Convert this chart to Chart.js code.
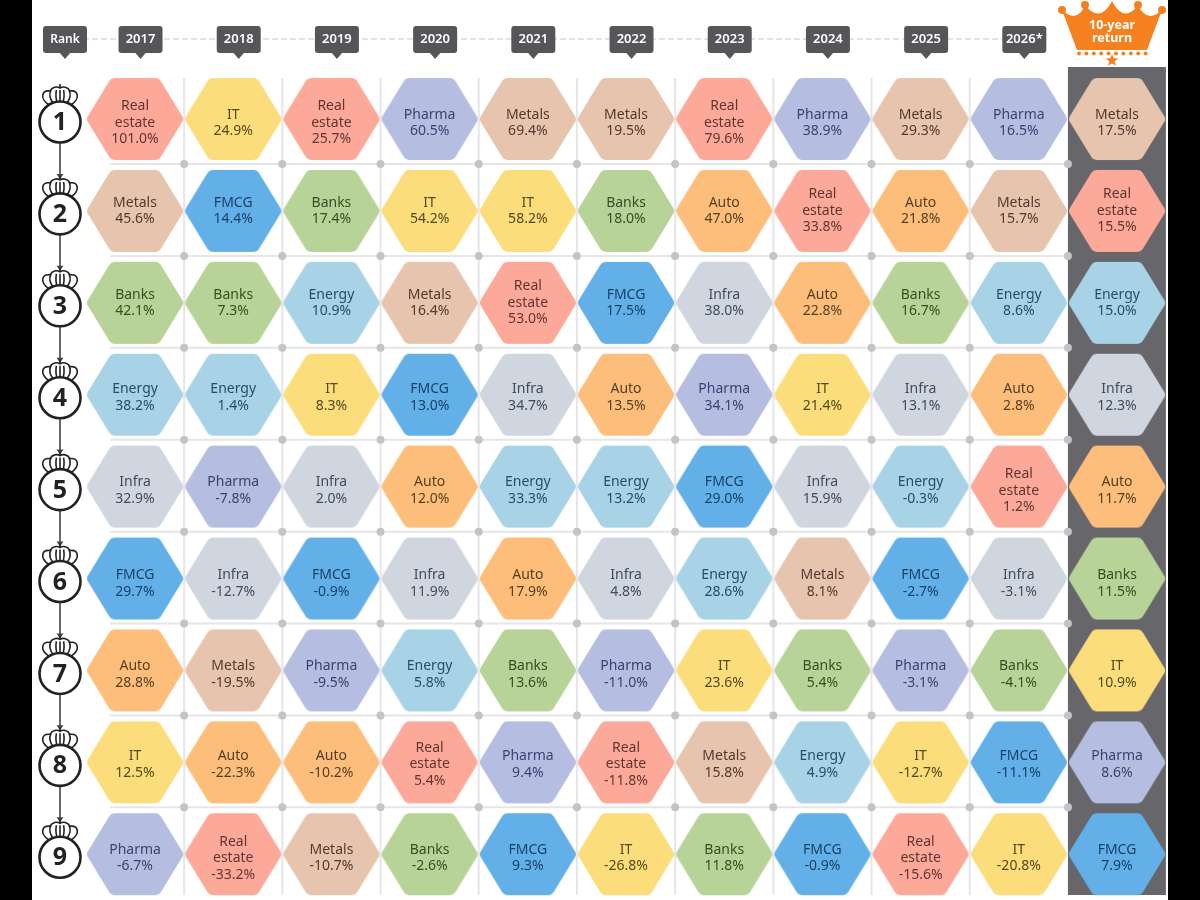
<!DOCTYPE html>
<html>
<head>
<meta charset="utf-8">
<title>Sector returns ranking</title>
<script src="https://cdn.jsdelivr.net/npm/chart.js@4"></script>
<style>
  html, body { margin: 0; padding: 0; background: #fff; }
  #wrap { width: 1200px; height: 900px; }
</style>
</head>
<body>
<div id="wrap"><canvas id="rankChart" width="1200" height="900"></canvas></div>
<script>
// Data
const years = ['2017', '2018', '2019', '2020', '2021', '2022', '2023', '2024', '2025', '2026*'];
const ranks = [1, 2, 3, 4, 5, 6, 7, 8, 9];
const sectorNames = ['Real estate', 'IT', 'Metals', 'Pharma', 'FMCG', 'Banks', 'Energy', 'Infra', 'Auto'];

const sectors2017 = ['Real estate', 'Metals', 'Banks', 'Energy', 'Infra', 'FMCG', 'Auto', 'IT', 'Pharma'];
const returns2017 = [101.0, 45.6, 42.1, 38.2, 32.9, 29.7, 28.8, 12.5, -6.7];
const sectors2018 = ['IT', 'FMCG', 'Banks', 'Energy', 'Pharma', 'Infra', 'Metals', 'Auto', 'Real estate'];
const returns2018 = [24.9, 14.4, 7.3, 1.4, -7.8, -12.7, -19.5, -22.3, -33.2];
const sectors2019 = ['Real estate', 'Banks', 'Energy', 'IT', 'Infra', 'FMCG', 'Pharma', 'Auto', 'Metals'];
const returns2019 = [25.7, 17.4, 10.9, 8.3, 2.0, -0.9, -9.5, -10.2, -10.7];
const sectors2020 = ['Pharma', 'IT', 'Metals', 'FMCG', 'Auto', 'Infra', 'Energy', 'Real estate', 'Banks'];
const returns2020 = [60.5, 54.2, 16.4, 13.0, 12.0, 11.9, 5.8, 5.4, -2.6];
const sectors2021 = ['Metals', 'IT', 'Real estate', 'Infra', 'Energy', 'Auto', 'Banks', 'Pharma', 'FMCG'];
const returns2021 = [69.4, 58.2, 53.0, 34.7, 33.3, 17.9, 13.6, 9.4, 9.3];
const sectors2022 = ['Metals', 'Banks', 'FMCG', 'Auto', 'Energy', 'Infra', 'Pharma', 'Real estate', 'IT'];
const returns2022 = [19.5, 18.0, 17.5, 13.5, 13.2, 4.8, -11.0, -11.8, -26.8];
const sectors2023 = ['Real estate', 'Auto', 'Infra', 'Pharma', 'FMCG', 'Energy', 'IT', 'Metals', 'Banks'];
const returns2023 = [79.6, 47.0, 38.0, 34.1, 29.0, 28.6, 23.6, 15.8, 11.8];
const sectors2024 = ['Pharma', 'Real estate', 'Auto', 'IT', 'Infra', 'Metals', 'Banks', 'Energy', 'FMCG'];
const returns2024 = [38.9, 33.8, 22.8, 21.4, 15.9, 8.1, 5.4, 4.9, -0.9];
const sectors2025 = ['Metals', 'Auto', 'Banks', 'Infra', 'Energy', 'FMCG', 'Pharma', 'IT', 'Real estate'];
const returns2025 = [29.3, 21.8, 16.7, 13.1, -0.3, -2.7, -3.1, -12.7, -15.6];
const sectors2026 = ['Pharma', 'Metals', 'Energy', 'Auto', 'Real estate', 'Infra', 'Banks', 'FMCG', 'IT'];
const returns2026 = [16.5, 15.7, 8.6, 2.8, 1.2, -3.1, -4.1, -11.1, -20.8];
const sectorsTenYear = ['Metals', 'Real estate', 'Energy', 'Infra', 'Auto', 'Banks', 'IT', 'Pharma', 'FMCG'];
const returnsTenYear = [17.5, 15.5, 15.0, 12.3, 11.7, 11.5, 10.9, 8.6, 7.9];

const columns = [
    [sectors2017, returns2017], [sectors2018, returns2018], [sectors2019, returns2019],
    [sectors2020, returns2020], [sectors2021, returns2021], [sectors2022, returns2022],
    [sectors2023, returns2023], [sectors2024, returns2024], [sectors2025, returns2025],
    [sectors2026, returns2026], [sectorsTenYear, returnsTenYear]
];

const fillColors = {
    'Real estate': '#fda99a', 'IT': '#fcdd7c', 'Metals': '#e6c4ae', 'Pharma': '#b5bde0', 'FMCG': '#63b0e8',
    'Banks': '#b7d398', 'Energy': '#a8d3e6', 'Infra': '#cfd6df', 'Auto': '#fdbe7c'
};
const textColors = {
    'Real estate': '#633530', 'IT': '#53491e', 'Metals': '#54392d', 'Pharma': '#3a4372', 'FMCG': '#174268',
    'Banks': '#345024', 'Energy': '#264f66', 'Infra': '#414d59', 'Auto': '#553f20'
};
const textFont = '"Noto Sans", sans-serif';

// the hexagon is a little canvas used as pointStyle
function hexagon(color) {
    const c = document.createElement('canvas');
    c.width = 100;
    c.height = 84;
    const g = c.getContext('2d');
    const pts = [[1, 42], [26, 1], [74, 1], [99, 42], [74, 83], [26, 83]];
    g.fillStyle = color;
    g.beginPath();
    g.moveTo((pts[0][0] + pts[1][0]) / 2, (pts[0][1] + pts[1][1]) / 2);
    for (let i = 1; i <= pts.length; i++) {
        const p = pts[i % pts.length];
        const n = pts[(i + 1) % pts.length];
        g.arcTo(p[0], p[1], n[0], n[1], 6);
    }
    g.closePath();
    g.fill();
    return c;
}

function smallCrown(g, x, y) {
    g.strokeStyle = '#222';
    g.lineWidth = 1.6;
    g.fillStyle = '#fff';
    g.beginPath();
    g.moveTo(x - 11, y + 21);
    g.bezierCurveTo(x - 21, y + 14, x - 18, y + 6, x - 10, y + 7);
    g.bezierCurveTo(x - 8, y + 3, x - 3, y + 2, x, y + 4);
    g.bezierCurveTo(x + 3, y + 2, x + 8, y + 3, x + 10, y + 7);
    g.bezierCurveTo(x + 18, y + 6, x + 21, y + 14, x + 11, y + 21);
    g.closePath();
    g.fill();
    g.stroke();
    [-10, -4, 0, 4, 10].forEach(function (d) {
        g.beginPath();
        g.moveTo(x + d * 0.6, y + 20);
        g.quadraticCurveTo(x + d * 1.25, y + 13, x + d * 0.9, y + 6);
        g.stroke();
    });
    g.beginPath();
    g.moveTo(x, y);
    g.lineTo(x, y + 4);
    g.stroke();
}

function star(g, x, y, r) {
    g.beginPath();
    for (let i = 0; i < 10; i++) {
        const rad = i % 2 ? r * 0.45 : r;
        const a = -Math.PI / 2 + i * Math.PI / 5;
        g.lineTo(x + Math.cos(a) * rad, y + Math.sin(a) * rad);
    }
    g.closePath();
    g.fill();
}

function pill(g, cx, text) {
    g.fillStyle = '#55555a';
    g.beginPath();
    g.roundRect(cx - 22, 26, 44, 27, 3);
    g.fill();
    g.beginPath();
    g.moveTo(cx - 6, 52);
    g.lineTo(cx + 6, 52);
    g.lineTo(cx, 59);
    g.closePath();
    g.fill();
    g.fillStyle = '#fff';
    g.font = (text === 'Rank' ? '600 12px ' : '600 13px ') + textFont;
    g.textAlign = 'center';
    g.textBaseline = 'middle';
    g.fillText(text, cx, 39.5);
}

const backdrop = {
    id: 'backdrop',
    beforeDatasetsDraw(chart) {
        const g = chart.ctx;
        const xs = chart.scales.x;
        const ys = chart.scales.y;
        g.save();
        // black side bars of the photo
        g.fillStyle = '#000';
        g.fillRect(0, 0, 32, 900);
        g.fillRect(1168, 0, 32, 900);
        // grey panel behind the 10-year column
        const px = xs.getPixelForValue(9.5);
        g.fillStyle = '#67666a';
        g.fillRect(px, 67, 98, 828);
        // grid
        g.strokeStyle = '#e6e6ea';
        g.lineWidth = 2;
        for (let i = 0; i < 9; i++) {
            const lx = xs.getPixelForValue(i + 0.5);
            g.beginPath();
            g.moveTo(lx, 78);
            g.lineTo(lx, 895);
            g.stroke();
        }
        for (let r = 1; r < 9; r++) {
            const ly = ys.getPixelForValue(r + 0.49);
            g.beginPath();
            g.moveTo(110, ly);
            g.lineTo(px, ly);
            g.stroke();
            g.fillStyle = '#c3c3c9';
            for (let i = 0; i < 10; i++) {
                g.beginPath();
                g.arc(xs.getPixelForValue(i + 0.5), ly, 4, 0, Math.PI * 2);
                g.fill();
            }
        }
        // header strip
        g.strokeStyle = '#dadade';
        g.lineWidth = 1.5;
        g.setLineDash([6, 3]);
        g.beginPath();
        g.moveTo(65, 39);
        g.lineTo(xs.getPixelForValue(9) + 6, 39);
        g.stroke();
        g.setLineDash([]);
        pill(g, 65, 'Rank');
        years.forEach(function (y, i) {
            pill(g, xs.getPixelForValue(i) + 5.5, y);
        });
        // rank badges
        ranks.forEach(function (r) {
            const cy = ys.getPixelForValue(r) + 3;
            if (r < 9) {
                const next = ys.getPixelForValue(r + 1);
                g.strokeStyle = '#444';
                g.lineWidth = 1.6;
                g.beginPath();
                g.moveTo(60, cy + 20);
                g.lineTo(60, next - 35);
                g.stroke();
                g.fillStyle = '#444';
                g.beginPath();
                g.moveTo(56.5, next - 37);
                g.lineTo(63.5, next - 37);
                g.lineTo(60, next - 32);
                g.closePath();
                g.fill();
            }
            smallCrown(g, 60, cy - 38);
            g.fillStyle = '#fff';
            g.strokeStyle = '#222';
            g.lineWidth = 2.6;
            g.beginPath();
            g.arc(60, cy, 20.5, 0, Math.PI * 2);
            g.fill();
            g.stroke();
            g.fillStyle = '#222';
            g.font = '700 25px ' + textFont;
            g.textAlign = 'center';
            g.textBaseline = 'middle';
            g.fillText(String(r), 60, cy + 1);
        });
        // big crown over the last column
        g.fillStyle = '#f5801f';
        g.beginPath();
        g.moveTo(1062, 10);
        g.quadraticCurveTo(1077, 24, 1085, 5);
        g.quadraticCurveTo(1100, 24, 1112, 1);
        g.quadraticCurveTo(1124, 24, 1138, 5);
        g.quadraticCurveTo(1147, 24, 1162, 10);
        g.lineTo(1147, 50);
        g.lineTo(1077, 50);
        g.closePath();
        g.fill();
        [[1062, 10], [1085, 5], [1138, 5], [1162, 10]].forEach(function (b) {
            g.beginPath();
            g.arc(b[0], b[1], 4, 0, Math.PI * 2);
            g.fill();
        });
        for (let d = 1079; d <= 1146; d += 7.4) {
            g.beginPath();
            g.arc(d, 53.5, 2, 0, Math.PI * 2);
            g.fill();
        }
        star(g, 1112, 60.5, 6.5);
        g.fillStyle = '#fff';
        g.font = '700 12.5px ' + textFont;
        g.textAlign = 'center';
        g.textBaseline = 'middle';
        g.fillText('10-year', 1112, 25);
        g.fillText('return', 1112, 38);
        g.restore();
    }
};

// text offset of each row, the labels don't sit quite centered in the hexagons
const rowNudge = [4, 0, 0, 3, 4, 5, 4, 2, 4];

const hexLabels = {
    id: 'hexLabels',
    afterDatasetsDraw(chart) {
        const g = chart.ctx;
        g.save();
        g.font = '14px ' + textFont;
        g.textAlign = 'center';
        g.textBaseline = 'middle';
        columns.forEach(function (col, c) {
            const x = chart.scales.x.getPixelForValue(c);
            col[0].forEach(function (name, i) {
                const y = chart.scales.y.getPixelForValue(ranks[i]) + rowNudge[i];
                const lines = name.split(' ').concat(col[1][i].toFixed(1) + '%');
                g.fillStyle = textColors[name];
                lines.forEach(function (t, k) {
                    g.fillText(t, x, y + (k - (lines.length - 1) / 2) * 16.5);
                });
            });
        });
        g.restore();
    }
};

// one dataset per sector: x is the column, y the rank
const datasets = sectorNames.map(function (name) {
    const pts = [];
    columns.forEach(function (col, c) {
        const i = col[0].indexOf(name);
        pts.push({ x: c, y: ranks[i] });
    });
    return {
        label: name,
        data: pts,
        pointStyle: hexagon(fillColors[name]),
        pointRadius: 41,
        pointHoverRadius: 41,
        showLine: false
    };
});

const rankChart = new Chart(document.getElementById('rankChart').getContext('2d'), {
    type: 'scatter',
    data: { datasets: datasets },
    options: {
        responsive: false,
        animation: false,
        devicePixelRatio: 1,
        layout: { padding: 0, autoPadding: false },
        scales: {
            x: { type: 'linear', display: false, min: -1.375, max: 10.845 },
            y: { type: 'linear', display: false, reverse: true, min: -0.295, max: 9.498 }
        },
        plugins: {
            legend: { display: false },
            tooltip: { enabled: false }
        }
    },
    plugins: [backdrop, hexLabels]
});
</script>
</body>
</html>
